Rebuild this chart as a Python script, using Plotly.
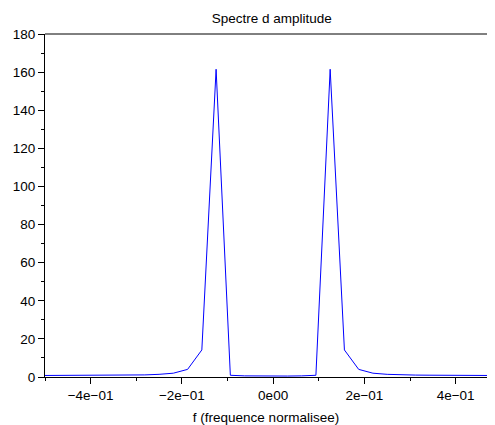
import plotly.graph_objects as go

freqs = [i / 32 for i in range(-16, 16)]
amplitude = [0.8, 0.8, 0.8, 0.85, 0.9, 0.95, 1.0, 1.1, 1.4, 2.0, 4.0, 14.2, 161.5, 0.9, 0.6, 0.5,
             0.4, 0.5, 0.6, 0.9, 161.5, 14.2, 4.0, 2.0, 1.4, 1.1, 1.0, 0.95, 0.9, 0.85, 0.8, 0.8]
xtick_vals = [-0.4, -0.2, 0.0, 0.2, 0.4]
xtick_text = ["\u22124e\u221201", "\u22122e\u221201", "0e00", "2e\u221201", "4e\u221201"]
ytick_vals = [0, 20, 40, 60, 80, 100, 120, 140, 160, 180]

fig = go.Figure()
fig.add_trace(go.Scatter(x=freqs, y=amplitude, mode="lines",
                         line=dict(color="#0000ff", width=1), showlegend=False))

fam = "Liberation Sans, Arial, sans-serif"
fs = 13.5
font = dict(family=fam, size=fs, color="#000000")
fig.update_layout(
    width=495, height=425,
    margin=dict(l=45, r=8, t=34, b=48, autoexpand=False),
    paper_bgcolor="white", plot_bgcolor="white",
    font=font,
    title=dict(text="Spectre d amplitude", xref="container", x=0.549, xanchor="center",
               yref="container", y=0.958, yanchor="middle",
               font=dict(family=fam, size=fs, color="#000")),
    xaxis=dict(range=[-0.5, 0.46875], tickvals=xtick_vals, ticktext=xtick_text,
               showgrid=False, zeroline=False, showline=True, linecolor="black", linewidth=1,
               ticks="outside", ticklen=6, tickcolor="black", automargin=False,
               minor=dict(tickvals=[-0.5, -0.3, -0.1, 0.1, 0.3], ticks="outside", ticklen=3,
                          tickcolor="black"),
               title=dict(text="f (frequence normalisee)", standoff=10,
                          font=dict(family=fam, size=fs, color="#000"))),
    yaxis=dict(range=[0, 180], tickvals=ytick_vals,
               showgrid=False, zeroline=False, showline=True, linecolor="black", linewidth=1,
               ticks="outside", ticklen=6, tickcolor="black", automargin=False,
               minor=dict(dtick=10, ticks="outside", ticklen=3, tickcolor="black"),
               ),
    shapes=[dict(type="line", xref="paper", yref="paper", x0=0, x1=1, y0=1, y1=1,
                 line=dict(color="black", width=1))],
)

fig.write_html("out.html", config={"displayModeBar": False},
               post_script="document.body.style.margin='0';document.body.style.overflow='hidden';")
